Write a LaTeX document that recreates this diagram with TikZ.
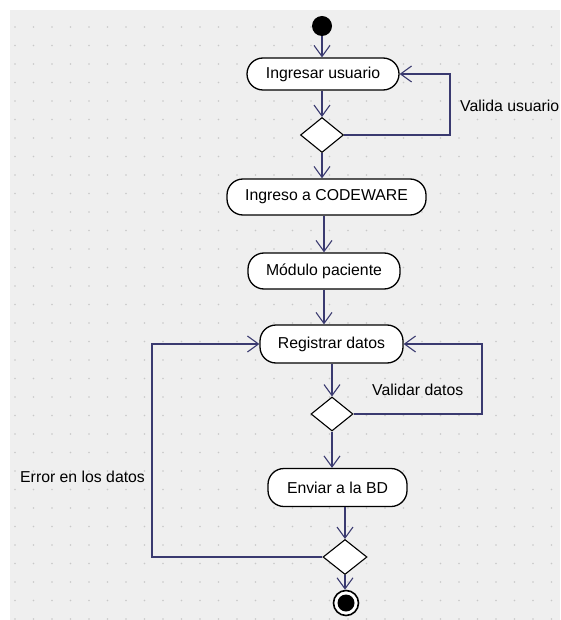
\documentclass[tikz,border=0pt]{standalone}
\usepackage{fontspec}
\setmainfont{Liberation Sans}
\usetikzlibrary{arrows.meta,shapes.geometric}
\definecolor{bgpanel}{HTML}{EFEFEF}
\definecolor{griddot}{HTML}{C8C8C8}
\definecolor{flow}{HTML}{3A3A70}
\begin{document}
\begin{tikzpicture}[x=1pt,y=-1pt,
  action/.style={draw=black, fill=white, line width=1.3pt, rounded corners=16pt,
    minimum height=36pt, inner sep=0pt, font=\fontsize{15.8}{18}\selectfont},
  decision/.style={draw=black, fill=white, line width=1.1pt, diamond,
    minimum width=43pt, minimum height=35pt, inner sep=0pt},
  flowline/.style={draw=flow, line width=1.1pt, -{Straight Barb[length=11pt,width=16pt]}},
  lbl/.style={font=\fontsize{15.8}{18}\selectfont, inner sep=0pt}
]
\useasboundingbox (0,0) rectangle (560,620);
% canvas: white margin, grey panel with dotted grid
\fill[white] (0,0) rectangle (560,620);
\fill[bgpanel] (10,10) rectangle (560,620);
\foreach \i in {0,...,29}
  \foreach \j in {0,...,32}
    \fill[griddot] ({15+18.5*\i},{27+18.5*\j}) circle (0.9);

% activity nodes
\node[circle, fill=black, minimum size=20pt, inner sep=0pt] (start) at (322,26) {};
\node[action, minimum width=152pt, minimum height=32pt] (u1) at (323,74) {Ingresar usuario};
\node[decision] (d1) at (322,135) {};
\node[action, minimum width=199pt] (c1) at (326.5,197) {Ingreso a CODEWARE};
\node[action, minimum width=152pt] (m1) at (324,271) {Módulo paciente};
\node[action, minimum width=143pt, minimum height=38pt] (r1) at (331.5,344) {Registrar datos};
\node[decision, minimum width=42pt, minimum height=34pt] (d2) at (332,414) {};
\node[action, minimum width=139pt, minimum height=38pt] (e1) at (337.5,487.5) {Enviar a la BD};
\node[decision, minimum width=44pt] (d3) at (345,557) {};
\node[circle, draw=black, line width=1.6pt, fill=white, minimum size=25pt, inner sep=0pt] (end) at (346,603) {};
\fill[black] (end.center) circle (8.5);

% bend points of the loops
\coordinate (k1) at (450,135);
\coordinate (k2) at (482,414);
\coordinate (k3) at (152,557);

% control flow
\draw[flowline] (start.south) -- (start.south |- u1.north);
\draw[flowline] (u1.south -| d1.north) -- (d1.north);
\draw[flowline] (d1.east) -- (k1) |- (u1.east);
\draw[flowline] (d1.south) -- (d1.south |- c1.north);
\draw[flowline] (c1.south -| m1.north) -- (m1.north);
\draw[flowline] (m1.south) -- (m1.south |- r1.north);
\draw[flowline] (r1.south -| d2.north) -- (d2.north);
\draw[flowline] (d2.east) -- (k2) |- (r1.east);
\draw[flowline] (d2.south) -- (d2.south |- e1.north);
\draw[flowline] (e1.south -| d3.north) -- (d3.north);
\draw[flowline] (d3.west) -- (k3) |- (r1.west);
\draw[flowline] (d3.south) -- (d3.south |- end.north);

% guard labels
\node[lbl, anchor=west] (lv1) at (460,106) {Valida usuario};
\node[lbl, anchor=west] (lv2) at (372,390) {Validar datos};
\node[lbl, anchor=west] (le) at (20,477) {Error en los datos};
\end{tikzpicture}
\end{document}
